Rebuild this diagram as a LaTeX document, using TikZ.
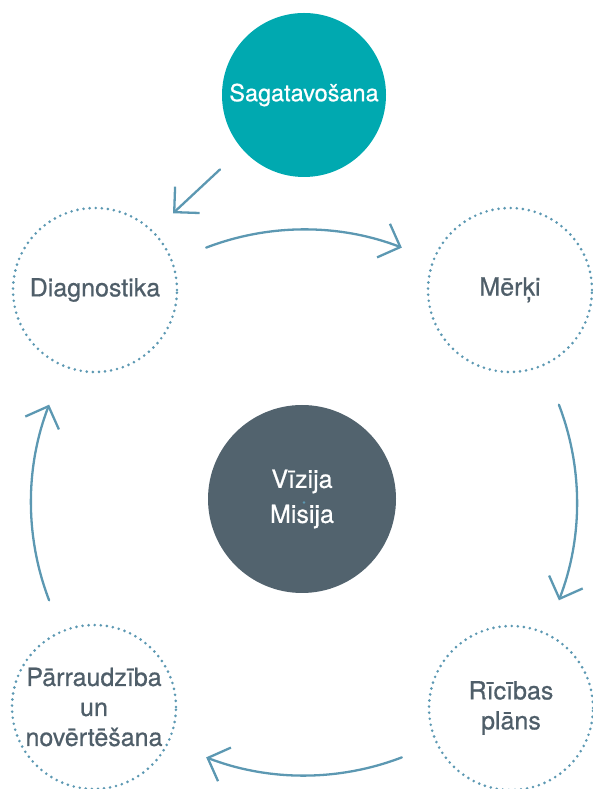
\documentclass[tikz,border=0pt]{standalone}
\usepackage{fontspec}
\setmainfont{TeX Gyre Heros}
\newfontfamily\medfont[FakeBold=0.7]{TeX Gyre Heros}
\usetikzlibrary{arrows.meta,positioning,calc}
\definecolor{tealc}{RGB}{0,169,176}
\definecolor{slate}{RGB}{82,99,110}
\definecolor{ringblue}{RGB}{92,152,178}
\definecolor{textgray}{RGB}{79,94,105}
\tikzset{
stepnode/.style = {circle, minimum size=164pt, inner sep=0pt, align=center,
font=\medfont\fontsize{25}{30}\selectfont},
fullnode/.style = {stepnode, fill=tealc, text=white, font=\medfont\fontsize{23.5}{30}\selectfont},% etapa sakums
dotnode/.style = {stepnode, draw=ringblue, line width=2.9pt, dash pattern=on 0pt off 6.1pt, line cap=round, text=textgray},% cikla etaps
corenode/.style = {stepnode, minimum size=188pt, fill=slate, text=white, font=\medfont\fontsize{25}{35}\selectfont},% centrs
flow/.style = {draw=ringblue, line width=2.3pt, line cap=round, -{Straight Barb[length=18pt,width=36pt,line width=2.3pt]}}
}
\begin{document}
\begin{tikzpicture}[x=1pt, y=1pt]
	\useasboundingbox (0,0) rectangle (593,789);
	\node [corenode] (viz) at (302,290) {Vīzija\\Misija};
	\node [fullnode] (sag) at (304,694) {Sagatavošana};
	\node [dotnode] (diag) at (95,499) {Diagnostika};
	\node [dotnode] (merki) at (510,499) {Mērķi};
	\node [dotnode] (ric) at (511,81) {Rīcības\\plāns};
	\node [dotnode] (parr) at (94,82) {Pārraudzība\\un\\novērtēšana};
	% cikla centrs
	\coordinate (ring) at ($(viz)+(2,-3.5)$);
	\fill [ringblue] (ring) circle (1.3);
	\draw [flow, shorten <=30pt, shorten >=26pt] (sag.221) -- (diag.45);
	\foreach \a in {90,0,-90,180}
	  \draw [flow] ($(ring)+(\a+21:273)$) arc [start angle=\a+21, end angle=\a-21, radius=273];
\end{tikzpicture}
\end{document}
